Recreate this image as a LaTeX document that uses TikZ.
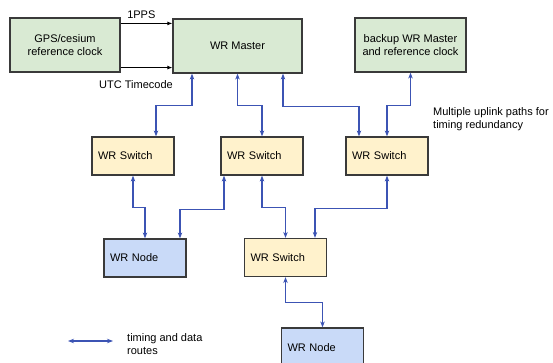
\documentclass[tikz,border=0pt]{standalone}
\usepackage{fontspec}
\setmainfont{Liberation Sans}
\usepackage{xcolor}
\usepackage{tikz}
\usetikzlibrary{
    calc,
    arrows.meta,
    positioning
}
\definecolor{refgreen}{HTML}{D9EAD3}
\definecolor{swyellow}{HTML}{FFF2CC}
\definecolor{nodeblue}{HTML}{C9DAF8}
\definecolor{routeblue}{HTML}{3C54B4}
\definecolor{boxline}{HTML}{3A3A3A}
\tikzset{
    % common look of every box
    box/.style={
        draw=boxline,
        line width=1.2pt,
        minimum width=82pt,
        minimum height=38pt,
        font=\fontsize{11}{13}\selectfont
    },
    % big boxes on top row, text centred
    topbox/.style={
        box,
        fill=refgreen,
        minimum height=54pt,
        align=center
    },
    % switches and end nodes, text pushed left
    swbox/.style={
        box,
        fill=swyellow,
        text width=70pt,
        align=left
    },
    endbox/.style={
        swbox,
        fill=nodeblue
    },
    % plain text labels
    lbl/.style={
        font=\fontsize{11}{13}\selectfont,
        inner sep=0pt
    },
    % black signal arrow from the reference clock
    sig/.style={
        line width=1pt,
        -{Latex[length=5pt,width=4pt]}
    },
    % blue two-way timing/data route
    route/.style={
        draw=routeblue,
        line width=1.2pt,
        {Stealth[length=6pt,width=4.5pt]}-{Stealth[length=6pt,width=4.5pt]}
    }
}

\begin{document}
\begin{tikzpicture}[x=1pt, y=-1pt]
    \useasboundingbox (0,0) rectangle (553,363);
    % top row
    \node[topbox, minimum width=110pt] (gps) at (65,45) {GPS/cesium\\reference clock};
    \node[topbox, minimum width=129pt] (master) at (237.5,46) {WR Master};
    \node[topbox, minimum width=111pt] (backup) at (410.5,45) {backup WR Master\\and reference clock};
    % switches
    \node[swbox] (sw1) at (133,156) {WR Switch};
    \node[swbox] (sw2) at (262,156) {WR Switch};
    \node[swbox] (sw3) at (387,156) {WR Switch};
    \node[swbox] (sw4) at (285.5,257.5) {WR Switch};
    % end nodes
    \node[endbox] (node1) at (145,258) {WR Node};
    \node[endbox, minimum height=40pt] (node2) at (322.5,348) {WR Node};

    % reference clock signals
    \draw[sig] ([yshift=-6pt]gps.north east) -- ([yshift=-6pt]gps.north east -| master.west)
        node[lbl, pos=0.4, above=4pt] (pps) {1PPS};
    \draw[sig] ([yshift=5pt]gps.south east) -- ([yshift=5pt]gps.south east -| master.west);
    \node[lbl] (utc) at (136,85) {UTC Timecode};

    % uplinks to the masters
    \draw[route] ([xshift=-45.5pt]master.south) -- ++(0,32) -| ([xshift=23pt]sw1.north);
    \draw[route] (master.south) -- ++(0,32) -| (sw2.north);
    \draw[route] ([xshift=45.5pt]master.south) -- ++(0,33) -| ([xshift=-28pt]sw3.north);
    \draw[route] (backup.south) -- ++(0,33) -| (sw3.north);
    % lower links
    \draw[route] (sw1.south) -- ++(0,32) -| (node1.north);
    \draw[route] ([xshift=-38pt]sw2.south) -- ++(0,34) -| ([xshift=35pt]node1.north);
    \draw[route] (sw2.south) -- ++(0,32) -| (sw4.north);
    \draw[route] (sw3.south) -- ++(0,33) -| ([xshift=29.5pt]sw4.north);
    \draw[route] (sw4.south) -- ++(0,25) -| (node2.north);

    \node[lbl, align=left, anchor=west] (uplink) at (433,119.5) {Multiple uplink paths for\\timing redundancy};

    % legend
    \coordinate (legA) at (68,341);
    \coordinate (legB) at (113,341);
    \draw[route] (legA) -- (legB);
    \node[lbl, align=left, anchor=west] (legtext) at (127,344) {timing and data\\routes};
\end{tikzpicture}
\end{document}
